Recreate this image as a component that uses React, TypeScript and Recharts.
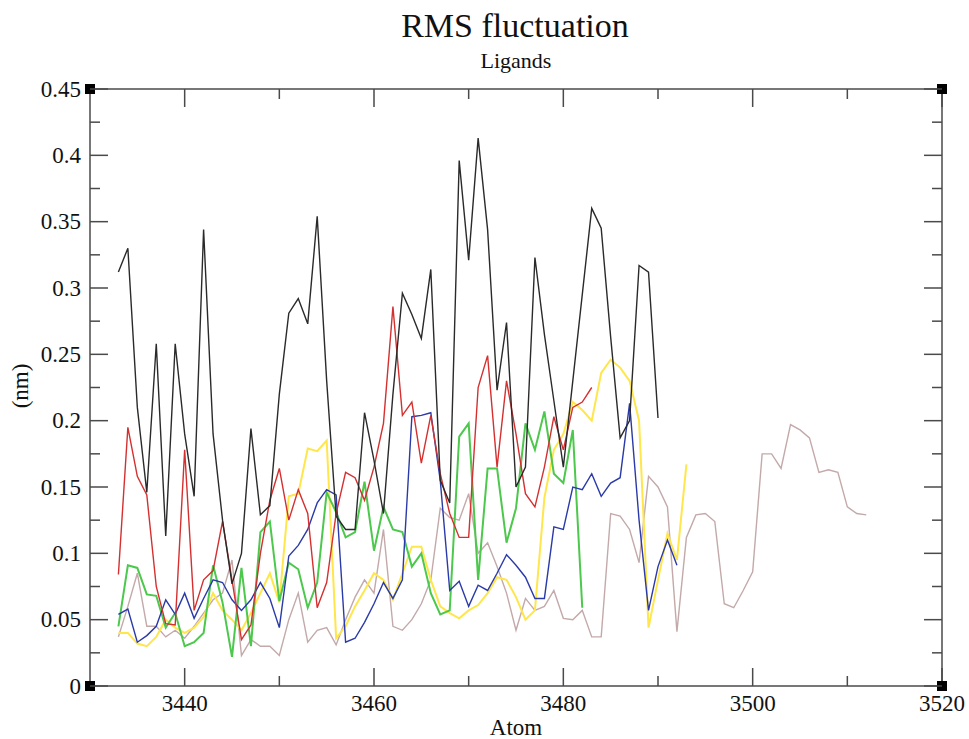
import React from 'react';
import { LineChart, Line, XAxis, YAxis, ReferenceDot } from 'recharts';

// ---- data ----
const firstAtom = 3433;

const blackValues = [0.312, 0.330, 0.21, 0.146, 0.258, 0.113, 0.258, 0.19, 0.143, 0.344, 0.19, 0.125, 0.077, 0.1, 0.194, 0.129, 0.136, 0.22, 0.281, 0.292, 0.273, 0.354, 0.23, 0.128, 0.118, 0.118, 0.206, 0.17, 0.13, 0.22, 0.296, 0.28, 0.262, 0.314, 0.155, 0.138, 0.396, 0.321, 0.413, 0.344, 0.223, 0.274, 0.15, 0.165, 0.323, 0.265, 0.215, 0.165, 0.23, 0.295, 0.36, 0.345, 0.263, 0.187, 0.2, 0.317, 0.312, 0.202];

const redValues = [0.084, 0.195, 0.158, 0.144, 0.075, 0.047, 0.046, 0.178, 0.057, 0.08, 0.087, 0.124, 0.08, 0.035, 0.046, 0.1, 0.14, 0.164, 0.125, 0.148, 0.13, 0.059, 0.078, 0.13, 0.161, 0.157, 0.14, 0.165, 0.198, 0.286, 0.204, 0.214, 0.168, 0.204, 0.16, 0.13, 0.112, 0.112, 0.225, 0.249, 0.165, 0.23, 0.19, 0.145, 0.135, 0.165, 0.203, 0.178, 0.21, 0.214, 0.225];

const greenValues = [0.045, 0.091, 0.089, 0.069, 0.068, 0.044, 0.055, 0.03, 0.033, 0.04, 0.091, 0.063, 0.022, 0.089, 0.03, 0.116, 0.124, 0.064, 0.093, 0.088, 0.059, 0.078, 0.146, 0.131, 0.112, 0.116, 0.154, 0.102, 0.135, 0.118, 0.116, 0.09, 0.1, 0.07, 0.054, 0.057, 0.188, 0.198, 0.08, 0.164, 0.164, 0.108, 0.134, 0.198, 0.178, 0.207, 0.16, 0.153, 0.193, 0.059];

const blueValues = [0.054, 0.058, 0.033, 0.038, 0.045, 0.065, 0.054, 0.07, 0.051, 0.066, 0.08, 0.078, 0.065, 0.057, 0.065, 0.078, 0.066, 0.044, 0.098, 0.106, 0.118, 0.138, 0.148, 0.144, 0.033, 0.036, 0.048, 0.062, 0.078, 0.066, 0.08, 0.203, 0.204, 0.206, 0.155, 0.072, 0.079, 0.06, 0.076, 0.072, 0.085, 0.099, 0.091, 0.082, 0.066, 0.066, 0.12, 0.118, 0.15, 0.148, 0.16, 0.143, 0.153, 0.157, 0.213, 0.125, 0.057, 0.09, 0.11, 0.091];

const yellowValues = [0.04, 0.04, 0.032, 0.03, 0.037, 0.05, 0.044, 0.04, 0.044, 0.052, 0.07, 0.057, 0.05, 0.042, 0.055, 0.07, 0.085, 0.063, 0.143, 0.145, 0.179, 0.177, 0.185, 0.036, 0.045, 0.06, 0.072, 0.085, 0.08, 0.065, 0.085, 0.105, 0.105, 0.08, 0.06, 0.055, 0.051, 0.057, 0.061, 0.07, 0.082, 0.08, 0.067, 0.05, 0.057, 0.142, 0.178, 0.19, 0.214, 0.208, 0.2, 0.236, 0.246, 0.24, 0.23, 0.2, 0.044, 0.08, 0.115, 0.095, 0.167];

const brownValues = [0.037, 0.06, 0.085, 0.045, 0.045, 0.037, 0.042, 0.036, 0.045, 0.055, 0.065, 0.07, 0.095, 0.023, 0.035, 0.03, 0.03, 0.023, 0.05, 0.07, 0.033, 0.042, 0.044, 0.031, 0.05, 0.067, 0.08, 0.07, 0.118, 0.045, 0.042, 0.05, 0.062, 0.08, 0.134, 0.127, 0.125, 0.145, 0.1, 0.108, 0.09, 0.07, 0.042, 0.066, 0.057, 0.06, 0.072, 0.051, 0.05, 0.057, 0.037, 0.037, 0.13, 0.128, 0.118, 0.093, 0.158, 0.15, 0.135, 0.041, 0.112, 0.129, 0.13, 0.124, 0.062, 0.059, 0.072, 0.086, 0.175, 0.175, 0.164, 0.197, 0.193, 0.187, 0.161, 0.163, 0.161, 0.135, 0.13, 0.129];

const xDomain = [3430, 3520];
const yDomain = [0, 0.45];
const xTicks = [3430, 3440, 3450, 3460, 3470, 3480, 3490, 3500, 3510, 3520];
const xMajorTicks = [3440, 3460, 3480, 3500, 3520];
const yTicks = [0, 0.025, 0.05, 0.075, 0.1, 0.125, 0.15, 0.175, 0.2, 0.225, 0.25, 0.275, 0.3, 0.325, 0.35, 0.375, 0.4, 0.425, 0.45];
const yMajorLabels = ['0', '0.05', '0.1', '0.15', '0.2', '0.25', '0.3', '0.35', '0.4', '0.45'];

const series = [
  { name: 'brown', values: brownValues, color: '#c3a9a9', width: 1.4 },
  { name: 'yellow', values: yellowValues, color: '#ffe64a', width: 2 },
  { name: 'green', values: greenValues, color: '#4cc84c', width: 2 },
  { name: 'blue', values: blueValues, color: '#2a3aa8', width: 1.4 },
  { name: 'red', values: redValues, color: '#d43030', width: 1.4 },
  { name: 'black', values: blackValues, color: '#2a2a2a', width: 1.4 },
];

const toPoints = (values: number[]) => values.map((v, i) => ({ atom: firstAtom + i, v }));

const FONT = '"Liberation Serif", "DejaVu Serif", serif';
const AXIS = '#4a4a4a';

const isMajorY = (v: number) => Math.abs(v / 0.05 - Math.round(v / 0.05)) < 1e-6;
const yLabel = (v: number) => yMajorLabels[Math.round(v / 0.05)];

const BottomLabel = (props: any) => {
  const { x, y, payload } = props;
  if (!xMajorTicks.includes(payload.value)) return <g />;
  return (
    <text x={x} y={y + 25} textAnchor="middle" fontFamily={FONT} fontSize={23} fill="#111">
      {payload.value}
    </text>
  );
};

// inward tick marks drawn as thin rects anchored at data points on the bottom / top edges
const BottomMark = (props: any) => {
  const { cx, cy, major } = props;
  const len = major ? 18 : 10;
  return <rect x={cx - 0.75} y={cy - len} width={1.5} height={len} fill={AXIS} />;
};

const TopMark = (props: any) => {
  const { cx, cy, major } = props;
  const len = major ? 18 : 10;
  return <rect x={cx - 0.75} y={cy} width={1.5} height={len} fill={AXIS} />;
};

const LeftTick = (props: any) => {
  const { x, y, payload } = props;
  const major = isMajorY(payload.value);
  const len = major ? 18 : 10;
  return (
    <g>
      <path d={`M${x},${y}L${x + len},${y}`} stroke={AXIS} strokeWidth={1.5} fill="none" />
      {major && (
        <text x={x - 9} y={y} textAnchor="end" dominantBaseline="central" fontFamily={FONT} fontSize={23} fill="#111">
          {yLabel(payload.value)}
        </text>
      )}
    </g>
  );
};

const RightTick = (props: any) => {
  const { x, y, payload } = props;
  const major = isMajorY(payload.value);
  const len = major ? 18 : 10;
  return <path d={`M${x},${y}L${x - len},${y}`} stroke={AXIS} strokeWidth={1.5} fill="none" />;
};

const CornerSquare = (props: any) => {
  const { cx, cy } = props;
  return <rect x={cx - 5} y={cy - 5} width={10} height={10} fill="#000" />;
};

const corners = [
  [xDomain[0], yDomain[0]],
  [xDomain[1], yDomain[0]],
  [xDomain[0], yDomain[1]],
  [xDomain[1], yDomain[1]],
];

export default function App() {
  return (
    <div style={{ position: 'absolute', left: 0, top: 0, width: 969, height: 739, background: '#fff', overflow: 'hidden' }}>
      <LineChart width={969} height={739} margin={{ top: 88, right: 26, bottom: 23, left: 30 }}>
        <XAxis
          dataKey="atom"
          type="number"
          domain={xDomain}
          ticks={xTicks}
          interval={0}
          allowDataOverflow
          height={30}
          tickSize={0}
          tickMargin={0}
          tickLine={false}
          axisLine={{ stroke: AXIS, strokeWidth: 1.5 }}
          tick={<BottomLabel />}
        />
        <XAxis
          xAxisId="top"
          orientation="top"
          dataKey="atom"
          type="number"
          domain={xDomain}
          ticks={xTicks}
          interval={0}
          allowDataOverflow
          height={1}
          tickSize={0}
          tickMargin={0}
          tickLine={false}
          axisLine={{ stroke: AXIS, strokeWidth: 1.5 }}
          tick={false}
        />
        <YAxis
          type="number"
          domain={yDomain}
          ticks={yTicks}
          interval={0}
          allowDataOverflow
          width={60}
          tickSize={0}
          tickMargin={0}
          tickLine={false}
          axisLine={{ stroke: AXIS, strokeWidth: 1.5 }}
          tick={<LeftTick />}
        />
        <YAxis
          yAxisId="right"
          orientation="right"
          type="number"
          domain={yDomain}
          ticks={yTicks}
          interval={0}
          allowDataOverflow
          width={1}
          tickSize={0}
          tickMargin={0}
          tickLine={false}
          axisLine={{ stroke: AXIS, strokeWidth: 1.5 }}
          tick={<RightTick />}
        />
        {series.map((s) => (
          <Line
            key={s.name}
            data={toPoints(s.values)}
            dataKey="v"
            type="linear"
            stroke={s.color}
            strokeWidth={s.width}
            dot={false}
            activeDot={false}
            isAnimationActive={false}
          />
        ))}
        {xTicks.slice(1).map((t) => (
          <ReferenceDot
            key={`bm${t}`}
            x={t}
            y={yDomain[0]}
            r={1}
            ifOverflow="visible"
            shape={<BottomMark major={xMajorTicks.includes(t)} />}
          />
        ))}
        {xTicks.slice(1).map((t) => (
          <ReferenceDot
            key={`tm${t}`}
            x={t}
            y={yDomain[1]}
            r={1}
            ifOverflow="visible"
            shape={<TopMark major={xMajorTicks.includes(t)} />}
          />
        ))}
        {corners.map(([cx, cy], i) => (
          <ReferenceDot key={i} x={cx} y={cy} r={5} ifOverflow="visible" shape={<CornerSquare />} />
        ))}
      </LineChart>
      <svg width={969} height={739} style={{ position: 'absolute', left: 0, top: 0, pointerEvents: 'none' }}>
        <text x={515} y={37} textAnchor="middle" fontFamily={FONT} fontSize={34} fill="#111">RMS fluctuation</text>
        <text x={516} y={68} textAnchor="middle" fontFamily={FONT} fontSize={22} fill="#111">Ligands</text>
        <text x={516} y={735} textAnchor="middle" fontFamily={FONT} fontSize={23} fill="#111">Atom</text>
        <text x={20} y={386} textAnchor="middle" dominantBaseline="central" fontFamily={FONT} fontSize={23} fill="#111" transform="rotate(-90 20 386)">(nm)</text>
      </svg>
    </div>
  );
}
